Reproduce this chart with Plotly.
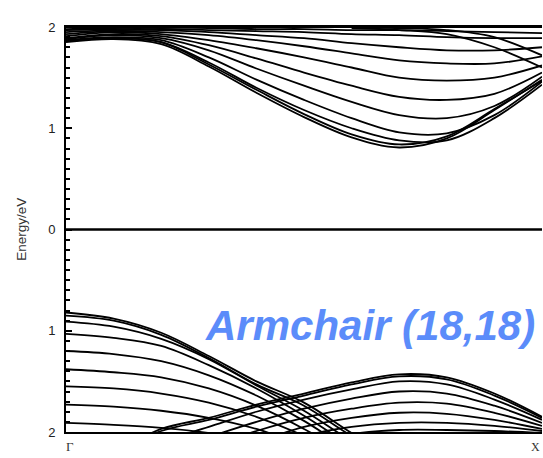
import plotly.graph_objects as go

# k-path from Gamma (0) to X (1)
k = [0.0, 0.1, 0.2, 0.3, 0.4, 0.5, 0.6, 0.7, 0.8, 0.9, 1.0]

# ---- conduction bands (eV) at the k points above ----
c1a = [1.85, 1.88, 1.83, 1.61, 1.35, 1.11, 0.91, 0.81, 0.90, 1.18, 1.48]
c1b = [1.86, 1.89, 1.85, 1.63, 1.38, 1.14, 0.94, 0.84, 0.92, 1.19, 1.47]
c2 = [1.86, 1.89, 1.85, 1.65, 1.40, 1.18, 1.00, 0.88, 0.88, 1.10, 1.43]
c3 = [1.87, 1.90, 1.87, 1.70, 1.48, 1.28, 1.10, 0.96, 0.95, 1.13, 1.46]
c4 = [1.88, 1.92, 1.89, 1.77, 1.59, 1.42, 1.26, 1.13, 1.10, 1.22, 1.51]
c5 = [1.89, 1.93, 1.91, 1.82, 1.69, 1.55, 1.42, 1.31, 1.28, 1.34, 1.55]
c6 = [1.91, 1.95, 1.93, 1.87, 1.79, 1.70, 1.60, 1.50, 1.47, 1.50, 1.62]
c7 = [1.93, 1.96, 1.95, 1.92, 1.87, 1.81, 1.74, 1.67, 1.64, 1.64, 1.71]
c8 = [1.95, 1.97, 1.97, 1.95, 1.92, 1.89, 1.84, 1.80, 1.77, 1.77, 1.80]
c9 = [1.97, 1.98, 1.98, 1.97, 1.96, 1.95, 1.93, 1.92, 1.90, 1.89, 1.89]
c10 = [1.98, 1.99, 1.99, 1.99, 1.98, 1.98, 1.97, 1.97, 1.96, 1.95, 1.94]
c11 = [2.00, 2.00, 2.00, 2.00, 2.00, 2.00, 2.00, 2.00, 2.00, 2.00, 2.00]
# bands descending towards X
k_cd = [0.6, 0.7, 0.8, 0.9, 1.0]
cd1 = [1.99, 1.97, 1.93, 1.80, 1.60]
cd2 = [2.00, 1.99, 1.97, 1.90, 1.72]

# ---- valence bands falling from Gamma ----
v1a = [-0.82, -0.88, -1.02, -1.25, -1.50, -1.71, -2.01, -2.30]
v1b = [-0.85, -0.90, -1.04, -1.27, -1.53, -1.74, -2.04, -2.30]
v2 = [-0.91, -0.96, -1.08, -1.28, -1.54, -1.79, -2.09, -2.35]
v3 = [-1.03, -1.07, -1.15, -1.34, -1.57, -1.84, -2.14, -2.40]
v4 = [-1.20, -1.23, -1.30, -1.44, -1.64, -1.89, -2.19, -2.45]
v5 = [-1.38, -1.41, -1.46, -1.57, -1.74, -1.97, -2.24, -2.50]
v6 = [-1.55, -1.57, -1.62, -1.71, -1.85, -2.04, -2.29, -2.55]
v7 = [-1.73, -1.75, -1.79, -1.86, -1.97, -2.14, -2.35, -2.60]
v8 = [-1.91, -1.93, -1.96, -2.01, -2.09, -2.22, -2.40, -2.65]

# ---- valence bands rising from below, peaking before X ----
r1a = [-2.40, -2.20, -1.97, -1.86, -1.73, -1.62, -1.51, -1.43, -1.46, -1.62, -1.85]
r1b = [-2.42, -2.22, -1.99, -1.88, -1.75, -1.64, -1.53, -1.45, -1.48, -1.64, -1.86]
r2 = [-2.50, -2.30, -2.10, -1.95, -1.80, -1.68, -1.58, -1.50, -1.53, -1.68, -1.88]
r3 = [-2.60, -2.40, -2.20, -2.05, -1.90, -1.77, -1.67, -1.60, -1.62, -1.74, -1.91]
r4 = [-2.70, -2.50, -2.30, -2.15, -1.99, -1.86, -1.77, -1.71, -1.72, -1.81, -1.94]
r5 = [-2.80, -2.60, -2.40, -2.25, -2.10, -1.95, -1.86, -1.81, -1.82, -1.88, -1.97]
r6 = [-2.90, -2.70, -2.50, -2.35, -2.20, -2.04, -1.95, -1.91, -1.91, -1.94, -1.99]
r7 = [-3.00, -2.80, -2.60, -2.45, -2.30, -2.12, -2.02, -1.98, -1.98, -1.99, -2.01]

fermi_k = [0.0, 1.0]
fermi_level = [0.0, 0.0]

y_tickvals = [-2, -1, 0, 1, 2]
y_ticktext = ["2", "1", "0", "1", "2"]

fig = go.Figure()
line = dict(color="black", width=1.8)

for band in [c1a, c1b, c2, c3, c4, c5, c6, c7, c8, c9, c10, c11,
             r1a, r1b, r2, r3, r4, r5, r6, r7]:
    fig.add_trace(go.Scatter(x=k, y=band, mode="lines", line=dict(line, shape="spline"),
                             hoverinfo="skip"))
for band in [cd1, cd2]:
    fig.add_trace(go.Scatter(x=k_cd, y=band, mode="lines", line=dict(line, shape="spline"),
                             hoverinfo="skip"))
for band in [v1a, v1b, v2, v3, v4, v5, v6, v7, v8]:
    fig.add_trace(go.Scatter(x=k[:len(band)], y=band, mode="lines",
                             line=dict(line, shape="spline"), hoverinfo="skip"))

fig.add_trace(go.Scatter(x=fermi_k, y=fermi_level, mode="lines",
                         line=dict(color="black", width=2.4), hoverinfo="skip"))

fig.update_layout(
    width=543, height=458,
    margin=dict(l=66, r=1, t=27, b=26),
    paper_bgcolor="white", plot_bgcolor="white",
    showlegend=False,
    font=dict(family="Liberation Sans, Arial, sans-serif", color="#222"),
)
fig.update_xaxes(range=[0, 1], showgrid=False, zeroline=False, showline=True,
                 linecolor="black", linewidth=2, mirror=True,
                 showticklabels=False, ticks="")
fig.update_yaxes(range=[-2, 2], showgrid=False, zeroline=False, showline=True,
                 linecolor="black", linewidth=2, mirror=False,
                 ticks="inside", ticklen=6, tickwidth=2, tickcolor="black",
                 tickvals=y_tickvals, ticktext=y_ticktext,
                 tickfont=dict(size=13, color="#222"), ticklabelstandoff=6,
                 minor=dict(ticks="inside", ticklen=4, tickwidth=1.5,
                            tickcolor="black", dtick=0.1, tick0=0))

fig.add_annotation(text="Energy/eV", textangle=-90, xref="paper", yref="y",
                   x=-0.094, y=0, xanchor="center", yanchor="middle",
                   showarrow=False, font=dict(size=13.5, color="#333"))
fig.add_annotation(text="Γ", xref="paper", yref="paper", x=0.008, y=-0.037,
                   xanchor="center", yanchor="middle", showarrow=False,
                   font=dict(family="Liberation Serif, serif", size=13, color="#333"))
fig.add_annotation(text="X", xref="paper", yref="paper", x=1.0, y=-0.037,
                   xanchor="right", yanchor="middle", showarrow=False,
                   font=dict(family="Liberation Serif, serif", size=12, color="#333"))
fig.add_annotation(text="Armchair (18,18)", xref="paper", yref="paper",
                   x=0.99, y=0.262, xanchor="right", yanchor="middle",
                   showarrow=False,
                   font=dict(family="Liberation Sans, Arial, sans-serif", size=42,
                             color="#5B8CFA", weight="bold", style="italic"))

fig.write_html("out.html")
